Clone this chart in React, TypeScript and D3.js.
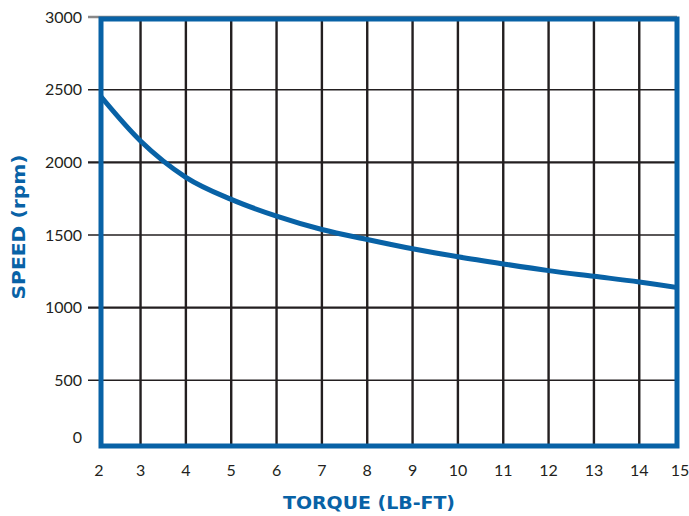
import * as d3 from "d3";

const torque = [2, 3, 4, 5, 6, 7, 8, 9, 10, 11, 12, 13, 14, 15];
const speed = [2500, 2147, 1897, 1745, 1630, 1538, 1469, 1405, 1350, 1301, 1255, 1216, 1177, 1131];
const xTicks = [2, 3, 4, 5, 6, 7, 8, 9, 10, 11, 12, 13, 14, 15];
const yTicks = [0, 500, 1000, 1500, 2000, 2500, 3000];

const BLUE = "#0862a6";
const INK = "#231f20";
const font = "Lato, 'Open Sans', sans-serif";
const titleFont = "'DejaVu Sans', sans-serif";

const App = () => {
  const width = 689;
  const height = 516;

  const xScale = d3.scaleLinear().domain([2, 15]).range([95.2, 684.6]);
  const yScale = d3.scaleLinear().domain([0, 3000]).range([453, 17]);

  // the blue frame sits a little inside the scale ranges
  const frame = { left: 101, right: 677, top: 19, bottom: 446 };

  const line = d3
    .line<number>()
    .x((_, i) => xScale(torque[i]))
    .y((d) => yScale(d))
    .curve(d3.curveMonotoneX);

  return (
    <div style={{ position: "absolute", left: 0, top: 0 }}>
      <svg width={width} height={height} style={{ display: "block", background: "#fff" }}>
        <defs>
          <clipPath id="plot">
            <rect
              x={frame.left}
              y={frame.top}
              width={frame.right - frame.left}
              height={frame.bottom - frame.top}
            />
          </clipPath>
        </defs>

        {/* horizontal grid + ticks */}
        {yTicks
          .filter((v) => v > 0)
          .map((v) => (
            <line
              key={"h" + v}
              x1={88}
              x2={frame.right}
              y1={yScale(v)}
              y2={yScale(v)}
              stroke={v === 3000 ? "#888" : INK}
              strokeWidth={v % 1000 === 0 ? 2.4 : 1.5}
            />
          ))}

        {/* vertical grid */}
        {xTicks
          .filter((v) => xScale(v) > frame.left + 3 && xScale(v) < frame.right - 3)
          .map((v) => (
            <line
              key={"v" + v}
              x1={xScale(v)}
              x2={xScale(v)}
              y1={frame.top}
              y2={frame.bottom}
              stroke={INK}
              strokeWidth={2.4}
            />
          ))}

        <path
          d={line(speed) ?? ""}
          fill="none"
          stroke={BLUE}
          strokeWidth={5}
          clipPath="url(#plot)"
        />

        <rect
          x={frame.left}
          y={frame.top}
          width={frame.right - frame.left}
          height={frame.bottom - frame.top}
          fill="none"
          stroke={BLUE}
          strokeWidth={5}
        />

        {/* y tick labels */}
        {yTicks.map((v) => (
          <text
            key={"yl" + v}
            x={82}
            y={Math.min(yScale(v), 437)}
            dy="0.35em"
            textAnchor="end"
            fontFamily={font}
            fontSize={16}
            fill={INK}
          >
            {v}
          </text>
        ))}

        {/* x tick labels */}
        {xTicks.map((v) => (
          <text
            key={"xl" + v}
            x={Math.max(99, Math.min(xScale(v), 680))}
            y={470}
            dy="0.35em"
            textAnchor="middle"
            fontFamily={font}
            fontSize={16}
            fill={INK}
          >
            {v}
          </text>
        ))}

        <text
          x={369}
          y={503}
          dy="0.35em"
          textAnchor="middle"
          fontFamily={titleFont}
          fontWeight={700}
          fontSize={18}
          textLength={172}
          lengthAdjust="spacingAndGlyphs"
          fill={BLUE}
        >
          TORQUE (LB-FT)
        </text>
        <text
          transform={`translate(19,227) rotate(-90)`}
          dy="0.35em"
          textAnchor="middle"
          fontFamily={titleFont}
          fontWeight={700}
          fontSize={18}
          textLength={145}
          lengthAdjust="spacingAndGlyphs"
          fill={BLUE}
        >
          SPEED (rpm)
        </text>
      </svg>
    </div>
  );
};

export default App;
